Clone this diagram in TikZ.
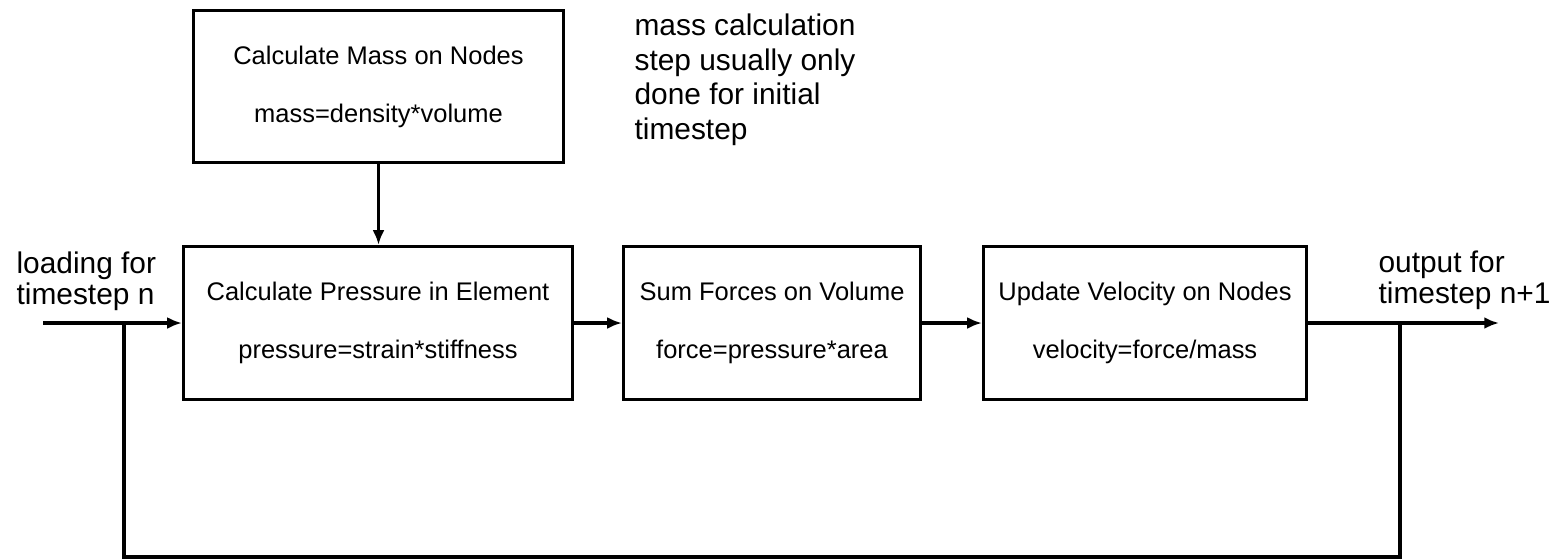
\documentclass[tikz,border=0pt]{standalone}
\usepackage{fontspec}
\setmainfont{Liberation Sans}
\usepackage{tikz}
\usetikzlibrary{arrows.meta}

\tikzset{
  block/.style={draw, line width=0.9pt, inner sep=0pt, minimum height=1.53cm,
    align=center, font=\fontsize{7.25}{16.5}\selectfont},
  note/.style={inner sep=0pt, anchor=base west, align=left,
    font=\fontsize{8.5}{8.8}\selectfont}
}

\begin{document}
\begin{tikzpicture}[line width=0.9pt, >={Latex[length=4.2pt,width=3.4pt]}]
     \useasboundingbox (0,0) rectangle (15.54,5.59);
      %%%%%%%%%%%%%%%%%%%%%%%%%%%%%%%%%%%%%%%%%%%%%%
      %%% Mass step, done once
      %%%%%%%%%%%%%%%%%%%%%%%%%%%%%%%%%%%%%%%%%%%%%%
     \node[block, minimum width=3.70cm, minimum height=1.52cm] (mass) at (3.785,4.725)
          {Calculate Mass on Nodes\\mass=density*volume};
     % base of a multi-line note is its last line
     \node[note, font=\fontsize{8.5}{9.8}\selectfont] (massnote) at (6.33,4.20)
          {mass calculation\\step usually only\\done for initial\\timestep};

      %%%%%%%%%%%%%%%%%%%%%%%%%%%%%%%%%%%%%%%%%%%%%%
      %%% One timestep: pressure, forces, velocity
      %%%%%%%%%%%%%%%%%%%%%%%%%%%%%%%%%%%%%%%%%%%%%%
     \node[block, minimum width=3.89cm] (pressure) at (3.78,2.36)
          {Calculate Pressure in Element\\pressure=strain*stiffness};
     \node[block, minimum width=2.97cm] (forces) at (7.72,2.36)
          {Sum Forces on Volume\\force=pressure*area};
     \node[block, minimum width=3.23cm] (velocity) at (11.45,2.36)
          {Update Velocity on Nodes\\velocity=force/mass};

     % Input and output of the timestep
     \coordinate (inStart) at (0.43,2.36);
     \coordinate (outEnd) at (14.99,2.36);
     \node[note] (loading) at (0.15,2.55) {loading for\\timestep n};
     \node[note] (output) at (13.77,2.56) {output for\\timestep n+1};

     \draw [->] (inStart) -- (pressure);
     \draw [->] (mass.south) -- (mass.south |- pressure.north);
     \draw [->] (pressure) -- (forces);
     \draw [->] (forces) -- (velocity);
     \draw [->] (velocity) -- (outEnd);

     % Loop back to the next timestep
     \coordinate (tapIn) at (1.24,2.36);
     \coordinate (tapOut) at (14.00,2.36);
     \coordinate (loopL) at (1.24,0.02);
     \coordinate (loopR) at (14.00,0.02);
     \draw (tapOut) -- (loopR) -- (loopL) -- (tapIn);

   \end{tikzpicture}
\end{document}
